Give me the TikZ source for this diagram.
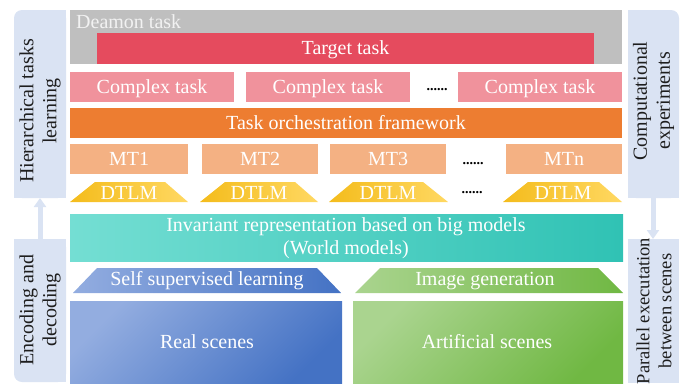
\documentclass[tikz,border=0pt]{standalone}
\usepackage{fontspec}
\setmainfont{Liberation Serif}
\usetikzlibrary{arrows.meta}
\definecolor{panel}{HTML}{DAE3F3}
\definecolor{cgray}{HTML}{BFBFBF}
\definecolor{cred}{HTML}{E54B5E}
\definecolor{cpink}{HTML}{F0929C}
\definecolor{corange}{HTML}{ED7D31}
\definecolor{cmt}{HTML}{F4B183}
\definecolor{cyel1}{HTML}{F4BC1C}
\definecolor{cyel2}{HTML}{FFD862}
\definecolor{cteal1}{HTML}{74DED3}
\definecolor{cteal2}{HTML}{30C2B4}
\definecolor{cblue1}{HTML}{93ADE0}
\definecolor{cblue2}{HTML}{4472C4}
\definecolor{cgreen1}{HTML}{AAD48F}
\definecolor{cgreen2}{HTML}{70B843}
\definecolor{ctxt}{HTML}{1E1E1E}
\begin{document}
\begin{tikzpicture}[x=1pt,y=-1pt,
  blk/.style={rectangle, inner sep=0, text=white, text height=16pt, text depth=4pt,
    font=\fontsize{20}{23}\selectfont},
  txt/.style={inner sep=0, text=white, font=\fontsize{20}{23}\selectfont},
  sidelbl/.style={rotate=90, align=center, inner sep=0, text=ctxt,
    font=\fontsize{20}{23}\selectfont},
  dotrow/.style={inner sep=0, text=black, font=\fontsize{14}{14}\selectfont\bfseries},
  flowar/.style={draw=panel, line width=5pt, -{Triangle[width=12pt,length=9pt]}},
  ylw/.style={left color=cyel1, right color=cyel2},
  teal/.style={left color=cteal1, right color=cteal2},
  bluel/.style={left color=cblue1, right color=cblue2},
  greenl/.style={left color=cgreen1, right color=cgreen2},
  bluediag/.style={top color=cblue1, bottom color=cblue2, shading angle=45},
  greendiag/.style={top color=cgreen1, bottom color=cgreen2, shading angle=45},
]
\useasboundingbox (0,0) rectangle (682,383);

% ---------- side panels ----------
\fill[panel, rounded corners=8] (14,10) rectangle (66,198);
\fill[panel] (30,10) rectangle (66,198);
\fill[panel] (14,30) rectangle (66,198);

\fill[panel, rounded corners=8] (14,239) rectangle (66,382);
\fill[panel] (30,239) rectangle (66,382);
\fill[panel] (14,239) rectangle (66,365);

\fill[panel, rounded corners=8] (628,10) rectangle (679,198);
\fill[panel] (628,10) rectangle (660,198);
\fill[panel] (628,30) rectangle (679,198);

\fill[panel] (628,239) rectangle (679,383);

\coordinate (htlbot) at (40,198);
\coordinate (edtop) at (40,239);
\coordinate (cebot) at (653,198);
\coordinate (petop) at (653,239);
\draw[flowar] (edtop) -- (htlbot);
\draw[flowar] (cebot) -- (petop);

\node[sidelbl] (htl) at (40,111) {Hierarchical tasks\\learning};
\node[sidelbl] (ed) at (40,310) {Encoding and\\decoding};
\node[sidelbl] (ce) at (653.5,101) {Computational\\experiments};
\node[sidelbl, font=\fontsize{18.5}{22}\selectfont] (pe) at (654,311) {Parallel executation\\between scenes};

% ---------- task hierarchy ----------
\node[blk, fill=cgray, minimum width=552, minimum height=54] (deamon) at (346,37) {};
\node[txt, anchor=base west, text=white!95!black] (deamonlbl) at (76,28) {Deamon task};
\node[blk, fill=cred, minimum width=497, minimum height=31] (target) at (345.5,48.5) {Target task};

\node[blk, fill=cpink, minimum width=164, minimum height=30] (ct1) at (152,87) {Complex task};
\node[blk, fill=cpink, minimum width=164, minimum height=30] (ct2) at (328,87) {Complex task};
\node[dotrow, anchor=base] (ctdots) at (437,90) {......};
\node[blk, fill=cpink, minimum width=164, minimum height=30] (ct3) at (540,87) {Complex task};

\node[blk, fill=corange, minimum width=552, minimum height=30] (orch) at (346,123) {Task orchestration framework};

\node[blk, fill=cmt, minimum width=118, minimum height=30] (mt1) at (129,159) {MT1};
\node[blk, fill=cmt, minimum width=116, minimum height=30] (mt2) at (260,159) {MT2};
\node[blk, fill=cmt, minimum width=116, minimum height=30] (mt3) at (388,159) {MT3};
\node[dotrow, anchor=base] (mtdots) at (473,164) {......};
\node[blk, fill=cmt, minimum width=116, minimum height=30] (mtn) at (564,159) {MTn};

% ---------- DTLM trapezoids ----------
\shade[ylw] (70,202) -- (95,182) -- (165,182) -- (188,202) -- cycle;
\shade[ylw] (200,202) -- (225,182) -- (295,182) -- (318,202) -- cycle;
\shade[ylw] (329,202) -- (353,182) -- (423,182) -- (448,202) -- cycle;
\shade[ylw] (503,202) -- (528,182) -- (599,182) -- (622,202) -- cycle;
\node[txt, anchor=base] (d1) at (129,199) {DTLM};
\node[txt, anchor=base] (d2) at (259,199) {DTLM};
\node[txt, anchor=base] (d3) at (388,199) {DTLM};
\node[dotrow, anchor=base] (ddots) at (472,193) {......};
\node[txt, anchor=base] (d4) at (563,199) {DTLM};

% ---------- representation ----------
\node[rectangle, inner sep=0, teal, minimum width=553, minimum height=47] (inv) at (346.5,237.5) {};
\node[txt, anchor=base] (invl1) at (346,231) {Invariant representation based on big models};
\node[txt, anchor=base] (invl2) at (346,254) {(World models)};

\shade[bluel] (73,293) -- (97,268) -- (317,268) -- (341,293) -- cycle;
\node[txt, anchor=base] (ssl) at (207,285) {Self supervised learning};
\shade[greenl] (355,293) -- (380,268) -- (598,268) -- (623,293) -- cycle;
\node[txt, anchor=base] (imggen) at (485,285) {Image generation};

\node[rectangle, inner sep=0, bluediag, minimum width=272, minimum height=83] (real) at (206,342.5) {};
\node[txt, anchor=base] (reallbl) at (207,348) {Real scenes};
\node[rectangle, inner sep=0, greendiag, minimum width=270, minimum height=83] (art) at (488,342.5) {};
\node[txt, anchor=base] (artlbl) at (487,348) {Artificial scenes};
\end{tikzpicture}
\end{document}
